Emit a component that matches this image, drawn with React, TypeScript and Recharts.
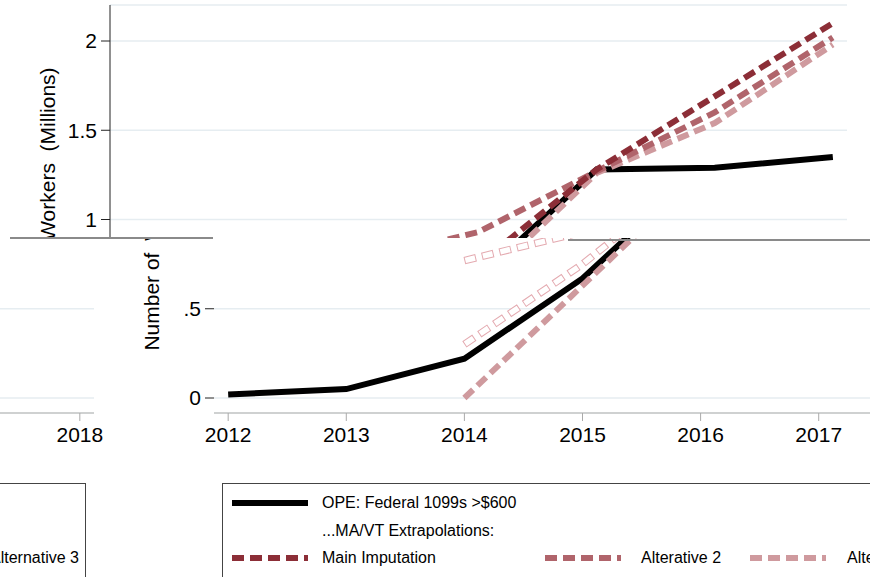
import React from "react";
import { LineChart, Line, XAxis, YAxis, CartesianGrid } from "recharts";

// values (millions of workers)
const years = [2012, 2013, 2014, 2015, 2016, 2017, 2018];
const opeFederal = [0.02, 0.05, 0.22, 0.67, 1.28, 1.29, 1.35];
const mainImputation = [null, null, 0.3, 0.75, 1.28, 1.69, 2.1];
const alterative2 = [null, null, 0.77, 0.93, 1.27, 1.6, 2.02];
const alternative3 = [null, null, 0, 0.63, 1.26, 1.54, 1.98];

const yTicks = [0, 0.5, 1, 1.5, 2];
const yTickLabels = ["0", ".5", "1", "1.5", "2"];

const data = years.map((year, i) => ({
  year,
  ope: opeFederal[i],
  main: mainImputation[i],
  alt2: alterative2[i],
  alt3: alternative3[i],
}));

const FONT = '"Liberation Sans", Arial, Helvetica, sans-serif';
const BLACK = "#000000";
const MAIN = "#8c2e37";
const ALT2 = "#b0646b";
const ALT3 = "#cf9a9e";
const HOLLOW = "#e4aab0";

// rotated y-axis title
const YTitle = (props: any) => {
  const vb = props.viewBox || { x: 0, y: 0, width: 110, height: 408 };
  const x = vb.x + 55;
  const y = vb.y + vb.height / 2;
  return (
    <text
      x={x}
      y={y}
      transform={`rotate(-90, ${x}, ${y})`}
      textAnchor="middle"
      fill="#000"
      fontSize={21}
      fontFamily={FONT}
      style={{ whiteSpace: "pre" }}
    >
      {"Number of  Workers  (Millions)"}
    </text>
  );
};

const Sample = ({ color, dashed, left, top }: any) => (
  <svg width={76} height={8} style={{ position: "absolute", left, top }}>
    <line
      x1={0}
      y1={4}
      x2={76}
      y2={4}
      stroke={color}
      strokeWidth={6}
      strokeDasharray={dashed ? "12 6" : undefined}
    />
  </svg>
);

const Item = ({ text, left, top }: any) => (
  <div
    style={{
      position: "absolute",
      left,
      top: top - 9,
      lineHeight: "18px",
      fontSize: 16,
      color: "#000",
      whiteSpace: "nowrap",
    }}
  >
    {text}
  </div>
);

// the whole Stata-like figure, drawn in its own coordinates
const Frame = ({ hollow, yLine }: { hollow: boolean; yLine: boolean }) => (
  <div style={{ position: "relative", width: 870, height: 577, fontFamily: FONT }}>
    <LineChart
      width={870}
      height={577}
      data={data}
      margin={{ top: 5, right: 23, bottom: 124, left: 0 }}
    >
      <CartesianGrid vertical={false} stroke="#e6edf1" strokeWidth={1.5} />
      <XAxis
        dataKey="year"
        type="number"
        domain={[2011.88, 2018.12]}
        allowDataOverflow
        ticks={years}
        interval={0}
        height={40}
        tickSize={8}
        tickMargin={6}
        axisLine={{ stroke: "#c6c6c6", strokeWidth: 1.5 }}
        tickLine={{ stroke: "#aaaaaa" }}
        tick={{ fill: "#000", fontSize: 21, fontFamily: FONT }}
      />
      <YAxis
        type="number"
        domain={[-0.084, 2.2017]}
        allowDataOverflow
        ticks={yTicks}
        interval={0}
        width={110}
        tickSize={9}
        tickMargin={4}
        tickFormatter={(v: number) => yTickLabels[yTicks.indexOf(v)]}
        axisLine={yLine ? { stroke: "#222" } : false}
        tickLine={{ stroke: "#222" }}
        tick={{ fill: "#000", fontSize: 21, fontFamily: FONT }}
        label={<YTitle />}
      />
      <Line dataKey="ope" type="linear" stroke={BLACK} strokeWidth={6} dot={false} isAnimationActive={false} />
      {hollow ? (
        <Line dataKey="alt3" type="linear" stroke={ALT3} strokeWidth={6} strokeDasharray="12 6" dot={false} isAnimationActive={false} />
      ) : null}
      {hollow ? (
        <Line dataKey="main" type="linear" stroke={HOLLOW} strokeWidth={7.5} strokeDasharray="12 6" dot={false} isAnimationActive={false} />
      ) : null}
      {hollow ? (
        <Line dataKey="main" type="linear" stroke="#ffffff" strokeWidth={5.5} strokeDasharray="10 8" strokeDashoffset={-1} dot={false} isAnimationActive={false} />
      ) : null}
      {hollow ? (
        <Line dataKey="alt2" type="linear" stroke={HOLLOW} strokeWidth={7.5} strokeDasharray="12 6" dot={false} isAnimationActive={false} />
      ) : null}
      {hollow ? (
        <Line dataKey="alt2" type="linear" stroke="#ffffff" strokeWidth={5.5} strokeDasharray="10 8" strokeDashoffset={-1} dot={false} isAnimationActive={false} />
      ) : null}
      {!hollow ? (
        <Line dataKey="alt3" type="linear" stroke={ALT3} strokeWidth={6} strokeDasharray="12 6" dot={false} isAnimationActive={false} />
      ) : null}
      {!hollow ? (
        <Line dataKey="alt2" type="linear" stroke={ALT2} strokeWidth={6} strokeDasharray="12 6" dot={false} isAnimationActive={false} />
      ) : null}
      {!hollow ? (
        <Line dataKey="main" type="linear" stroke={MAIN} strokeWidth={6} strokeDasharray="12 6" dot={false} isAnimationActive={false} />
      ) : null}
    </LineChart>

    {/* legend */}
    <div
      style={{
        position: "absolute",
        left: 118,
        top: 483,
        width: 721,
        height: 120,
        border: "1.5px solid #444",
        boxSizing: "border-box",
      }}
    />
    <Sample color={BLACK} left={128} top={499} />
    <Item text="OPE: Federal 1099s >$600" left={218} top={503} />
    <Item text="...MA/VT Extrapolations:" left={218} top={531} />
    <Sample color={MAIN} dashed left={128} top={554} />
    <Item text="Main Imputation" left={218} top={558} />
    <Sample color={ALT2} dashed left={441} top={554} />
    <Item text="Alterative 2" left={537} top={558} />
    <Sample color={ALT3} dashed left={646} top={554} />
    <Item text="Alternative 3" left={743} top={558} />
  </div>
);

export default function App() {
  return (
    <div
      style={{
        position: "absolute",
        left: 0,
        top: 0,
        width: 870,
        height: 577,
        overflow: "hidden",
        background: "#fff",
      }}
    >
      {/* upper band: figure in place */}
      <div style={{ position: "absolute", left: 0, top: 0, width: 870, height: 238, overflow: "hidden" }}>
        <Frame hollow={false} yLine />
      </div>
      {/* lower band: figure shifted right and wrapped */}
      <div style={{ position: "absolute", left: 0, top: 238, width: 870, height: 339, overflow: "hidden" }}>
        <div style={{ position: "absolute", left: 104, top: -238 }}>
          <Frame hollow yLine={false} />
        </div>
        <div style={{ position: "absolute", left: -753, top: -238 }}>
          <Frame hollow yLine={false} />
        </div>
      </div>
      <div style={{ position: "absolute", left: 10, top: 237, width: 203, height: 1.5, background: "#8a8a8a" }} />
      <div style={{ position: "absolute", left: 568, top: 239, width: 302, height: 1.5, background: "#8a8a8a" }} />
    </div>
  );
}
